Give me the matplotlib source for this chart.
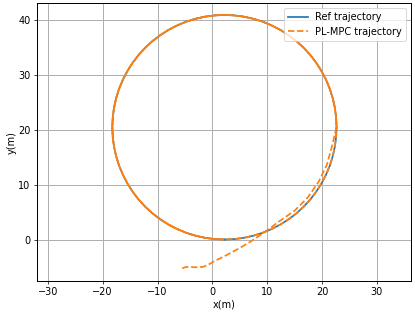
import matplotlib
matplotlib.use("Agg")
import matplotlib.pyplot as plt

# reference circle, read every 5 deg starting at the bottom, going counter-clockwise
ref_x = [2.2, 3.98, 5.75, 7.49, 9.19, 10.84, 12.43, 13.93, 15.35, 16.66,
         17.87, 18.95, 19.91, 20.73, 21.42, 21.95, 22.34, 22.57, 22.65,
         22.57, 22.34, 21.95, 21.42, 20.73, 19.91, 18.95, 17.87, 16.66,
         15.35, 13.93, 12.43, 10.84, 9.19, 7.49, 5.75, 3.98, 2.2,
         0.42, -1.35, -3.09, -4.79, -6.44, -8.03, -9.53, -10.95, -12.26,
         -13.47, -14.55, -15.51, -16.33, -17.02, -17.55, -17.94, -18.17, -18.25,
         -18.17, -17.94, -17.55, -17.02, -16.33, -15.51, -14.55, -13.47, -12.26,
         -10.95, -9.53, -8.03, -6.44, -4.79, -3.09, -1.35, 0.42, 2.2]
ref_y = [0.05, 0.13, 0.36, 0.75, 1.28, 1.97, 2.79, 3.75, 4.83, 6.04,
         7.35, 8.77, 10.28, 11.86, 13.51, 15.21, 16.95, 18.72, 20.5,
         22.28, 24.05, 25.79, 27.49, 29.14, 30.72, 32.23, 33.65, 34.96,
         36.17, 37.25, 38.21, 39.03, 39.72, 40.25, 40.64, 40.87, 40.95,
         40.87, 40.64, 40.25, 39.72, 39.03, 38.21, 37.25, 36.17, 34.96,
         33.65, 32.23, 30.72, 29.14, 27.49, 25.79, 24.05, 22.28, 20.5,
         18.72, 16.95, 15.21, 13.51, 11.86, 10.28, 8.77, 7.35, 6.04,
         4.83, 3.75, 2.79, 1.97, 1.28, 0.75, 0.36, 0.13, 0.05]

# PL-MPC approach from the start point until it meets the circle
app_x = [-5.5, -5.0, -4.3, -3.4, -2.4, -1.6, -0.5, 0.5, 2.0, 3.5, 5.0, 7.0,
         8.8, 10.5, 12.1, 15.0, 17.4, 19.4, 20.9, 21.8, 22.4]
app_y = [-5.2, -5.0, -4.9, -5.0, -5.0, -4.9, -4.4, -3.8, -3.1, -2.3, -1.5, -0.3,
         0.9, 2.1, 3.3, 5.3, 7.7, 10.6, 13.7, 17.0, 19.5]

# after joining it tracks the circle for almost two laps
mpc_x = app_x + ref_x[18:] + ref_x[1:]
mpc_y = app_y + ref_y[18:] + ref_y[1:]

plt.rcParams['font.size'] = 10.8
plt.rcParams['axes.linewidth'] = 1.1

fig = plt.figure(figsize=(415 / 65, 315 / 65), dpi=65)
ax = fig.add_axes([0.089, 0.108, 0.901, 0.882])

ax.plot(ref_x, ref_y, color='C0', lw=1.9, label='Ref trajectory')
ax.plot(mpc_x, mpc_y, color='C1', lw=1.9, ls='--', label='PL-MPC trajectory')

ax.set_xlim(-32, 36.2)
ax.set_ylim(-7.5, 43.1)
ax.set_xticks([-30, -20, -10, 0, 10, 20, 30])
ax.set_yticks([0, 10, 20, 30, 40])
ax.set_xlabel('x(m)', labelpad=2)
ax.set_ylabel('y(m)', labelpad=2)
ax.grid(True, lw=1.1)
ax.legend(loc='upper right')

fig.savefig('out.png', dpi=65)
